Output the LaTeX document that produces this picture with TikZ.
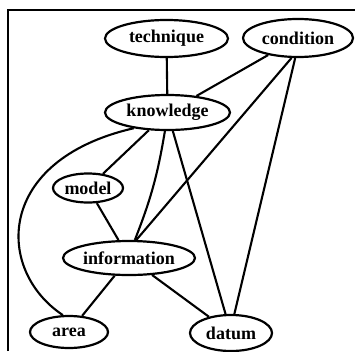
\documentclass[tikz,border=0pt]{standalone}
\usepackage{fontspec}
\setmainfont{Liberation Serif}
\usetikzlibrary{shapes.geometric}
\tikzset{
  concept/.style={ellipse, draw, line width=2.2pt, inner sep=0pt, font=\fontsize{18}{20}\selectfont\bfseries},
  link/.style={line width=2.1pt},
  frameline/.style={line width=2.2pt}
}
\begin{document}
\begin{tikzpicture}[x=1pt,y=-1pt]
\useasboundingbox (0,0) rectangle (355,351);
\draw[frameline] (8,351) -- (8,10) -- (355,10);
\node[concept, minimum width=123pt, minimum height=37pt] (technique) at (166.5,38.5) {technique};
\node[concept, minimum width=110pt, minimum height=38pt] (condition) at (298,38) {condition};
\node[concept, minimum width=125pt, minimum height=35pt] (knowledge) at (167.5,112.5) {knowledge};
\node[concept, minimum width=70pt, minimum height=29pt] (model) at (88,188) {model};
\node[concept, minimum width=132pt, minimum height=34pt] (information) at (129,258) {information};
\node[concept, minimum width=78pt, minimum height=32pt] (area) at (69,332) {area};
\node[concept, minimum width=82pt, minimum height=36pt] (datum) at (231,333) {datum};
\draw[link] (technique) -- (knowledge);
\draw[link] (condition) -- (knowledge);
\draw[link] (condition.252) -- (information.68);
\draw[link] (condition.262) -- (datum.80);
\draw[link] (knowledge) -- (model);
\draw[link] (knowledge.205) .. controls (-5,160) and (-5,270) .. (area.110);
\draw[link] (knowledge.262) to[bend left=6] (information.72);
\draw[link] (knowledge) -- (datum);
\draw[link] (model) -- (information);
\draw[link] (information) -- (area);
\draw[link] (information) -- (datum);
\end{tikzpicture}
\end{document}
